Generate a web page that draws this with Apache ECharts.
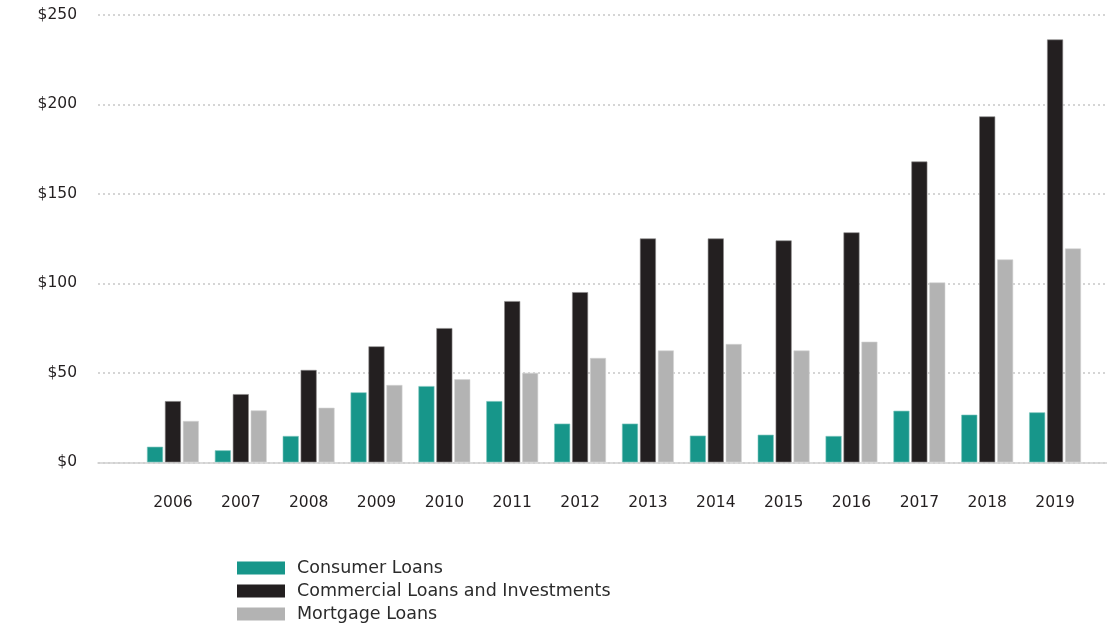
<!DOCTYPE html>
<html>
<head>
<meta charset="utf-8">
<script src="https://cdn.jsdelivr.net/npm/echarts@6/dist/echarts.min.js"></script>
<style>html,body{margin:0;padding:0;background:#fff;}#c{width:1107px;height:629px;}</style>
</head>
<body>
<div id="c"></div>
<script>
const years = ['2006','2007','2008','2009','2010','2011','2012','2013','2014','2015','2016','2017','2018','2019'];
const consumer = [8.7, 6.7, 14.7, 39.1, 42.6, 34.2, 21.6, 21.6, 14.9, 15.4, 14.7, 28.8, 26.6, 27.9];
const commercial = [34.2, 38.1, 51.6, 64.8, 75.0, 90.1, 95.1, 125.1, 125.1, 124.0, 128.5, 168.1, 193.3, 236.3];
const mortgage = [23.1, 29.0, 30.5, 43.2, 46.4, 50.0, 58.3, 62.5, 66.1, 62.5, 67.4, 100.5, 113.4, 119.5];
const yTicks = [0, 50, 100, 150, 200, 250];

const axisFont = 'DejaVu Sans';
const chart = echarts.init(document.getElementById('c'));
const gridTop = 15, gridBottom = 629 - 462.3;
chart.setOption({
  animation: false,
  backgroundColor: '#fff',
  legend: {
    orient: 'vertical', left: 237, top: 559, padding: 0,
    itemWidth: 48, itemHeight: 13, itemGap: 5,
    icon: 'rect',
    itemStyle: { borderWidth: 0 },
    textStyle: { fontFamily: 'DejaVu Sans', fontSize: 17.5, lineHeight: 17, color: '#2b2b2b', padding: [0, 0, 0, 7] },
    data: ['Consumer Loans', 'Commercial Loans and Investments', 'Mortgage Loans']
  },
  grid: [
    { left: 98, right: 0, top: gridTop, bottom: gridBottom },
    { left: 139, width: 950, top: gridTop, bottom: gridBottom }
  ],
  xAxis: [
    { gridIndex: 0, type: 'value', min: 0, max: 1, show: true,
      axisLine: { show: true, lineStyle: { color: '#cfcfcf', width: 1.5 } },
      axisTick: { show: false }, axisLabel: { show: false }, splitLine: { show: false } },
    { gridIndex: 1, type: 'category', data: years,
      axisLine: { show: false }, axisTick: { show: false },
      axisLabel: { margin: 33, fontFamily: axisFont, fontSize: 15.5, color: '#231f20' } }
  ],
  yAxis: [
    { gridIndex: 0, type: 'value', min: 0, max: 250, interval: 50,
      axisLine: { show: false }, axisTick: { show: false },
      axisLabel: { margin: 21, fontFamily: axisFont, fontSize: 15.5, color: '#231f20',
        formatter: v => yTicks.includes(v) ? '$' + v : '' },
      splitLine: { show: true, lineStyle: { type: [2, 3], color: '#c8c8c8', width: 1.5 } } },
    { gridIndex: 1, type: 'value', min: 0, max: 250, show: false, splitLine: { show: false } }
  ],
  series: [
    { name: 'Consumer Loans', type: 'bar', xAxisIndex: 1, yAxisIndex: 1, data: consumer,
      barWidth: 16, barGap: '12%', itemStyle: { color: '#17968a', borderColor: '#7ac4bc', borderWidth: 0.6 } },
    { name: 'Commercial Loans and Investments', type: 'bar', xAxisIndex: 1, yAxisIndex: 1, data: commercial,
      barWidth: 16, barGap: '12%', itemStyle: { color: '#231f20', borderColor: '#8a8888', borderWidth: 0.6 } },
    { name: 'Mortgage Loans', type: 'bar', xAxisIndex: 1, yAxisIndex: 1, data: mortgage,
      barWidth: 16, barGap: '12%', itemStyle: { color: '#b3b3b3', borderColor: '#d4d4d4', borderWidth: 0.6 } }
  ]
});
</script>
</body>
</html>
